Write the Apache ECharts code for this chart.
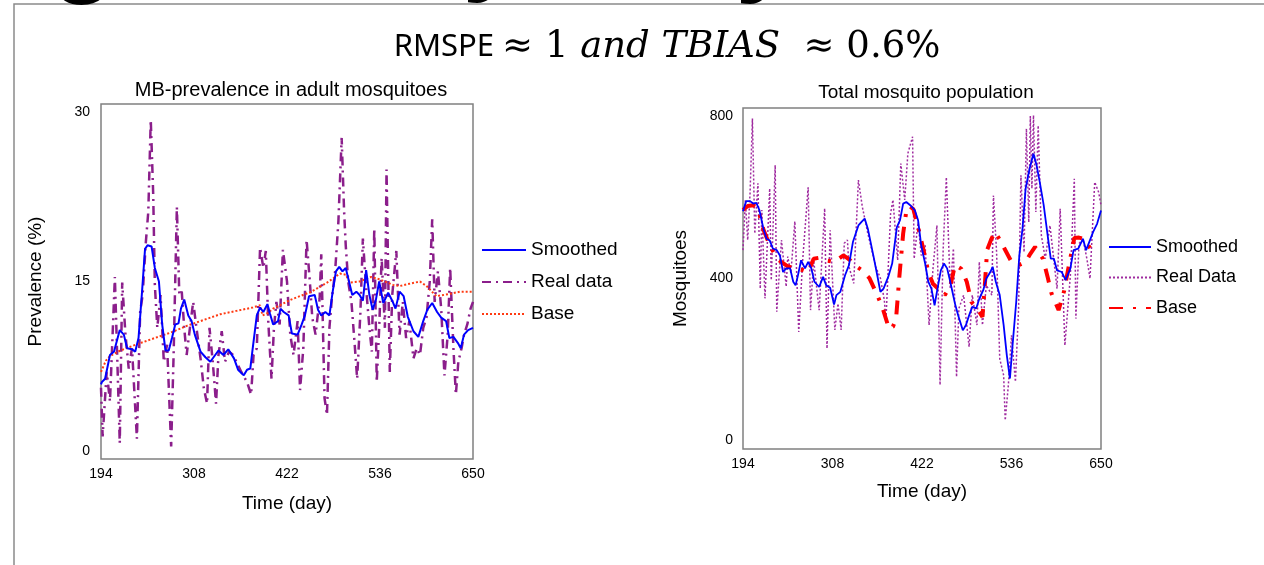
<!DOCTYPE html>
<html><head><meta charset="utf-8">
<script src="https://cdn.jsdelivr.net/npm/echarts@6/dist/echarts.min.js"></script>
<style>html,body{margin:0;padding:0;background:#fff}#c{width:1264px;height:565px}</style>
</head><body><div id="c"></div>
<script>
// ---------- tick labels ----------
const xTicks = [194, 308, 422, 536, 650];
const prevTicks = [0, 15, 30];
const popTicks = [0, 400, 800];

// ---------- left: MB-prevalence ----------
const prevSmoothDays = [194,195,199,205,210,217,222,226,232,236,240,244,248,251,256,260,265,269,273,277,281,285,289,292,296,301,305,309,316,322,328,334,338,344,350,357,362,369,373,377,380,385,389,393,398,401,405,411,414,418,424,428,435,440,444,449,456,460,464,469,474,478,482,486,490,494,498,502,507,511,515,519,523,527,531,535,540,546,551,555,560,565,570,577,583,589,594,600,606,611,617,621,626,632,635,639,644,650];
const prevSmoothVals = [5.9,6.1,6.4,8.5,8.8,10.7,10.3,9.1,9.0,8.8,10.0,13.8,17.9,18.2,18.1,16.2,15.0,11.2,8.9,8.9,10.0,11.2,11.3,12.6,13.4,12.0,11.5,10.3,8.8,8.3,7.9,8.5,8.9,8.5,9.0,8.2,7.2,6.7,7.2,7.3,9.1,12.0,12.7,12.3,13.0,12.2,11.2,11.5,12.6,12.3,12.0,10.4,10.3,11.2,12.0,13.7,13.8,12.5,12.0,12.3,12.0,14.1,15.9,16.3,15.9,16.2,15.0,13.8,14.1,13.8,13.3,16.0,13.8,12.5,13.4,15.0,13.1,14.0,13.3,12.6,14.1,13.7,11.9,10.6,10.1,11.5,12.5,13.1,12.3,11.8,11.5,10.0,10.1,9.5,9.1,10.3,10.7,10.9];

const prevRealDays = [194,196,201,205,211,217,220,224,228,232,238,242,245,249,252,255,258,260,263,267,271,275,280,283,287,290,293,296,299,303,307,311,316,320,324,327,331,335,338,342,346,351,356,366,373,378,381,385,389,393,396,399,403,406,409,413,417,422,426,430,435,438,442,446,450,453,457,462,464,468,471,474,477,481,485,489,492,494,497,501,505,508,512,515,519,523,526,529,532,535,538,542,544,548,551,556,560,564,568,572,577,581,585,589,593,597,600,603,607,611,615,619,622,626,629,632,636,639,643,647,650];
const prevRealVals = [5.6,1.3,7.0,4.4,15.4,0.7,14.9,10.3,7.3,9.1,1.1,12.3,13.8,18.5,21.2,29.3,22.7,14.7,10.9,13.8,7.9,9.4,0.4,8.5,21.6,13.8,14.1,10.9,8.5,10.9,13.2,10.9,8.2,5.6,4.2,10.9,7.9,4.2,8.5,10.6,7.9,8.8,8.5,7.0,6.1,5.0,8.5,9.1,18.0,16.2,17.7,11.5,6.4,10.9,13.2,11.2,17.8,15.0,10.3,8.5,11.5,5.4,9.1,18.7,15.0,11.8,10.3,13.5,17.4,4.7,3.2,10.9,13.5,15.9,20.3,27.7,21.2,18.2,15.0,13.2,9.4,6.4,12.3,18.8,14.4,10.9,8.8,19.7,6.1,10.9,17.1,10.9,24.9,7.0,13.8,17.7,10.3,13.2,10.0,11.5,8.2,9.1,8.5,10.9,11.8,15.0,20.5,13.2,15.9,12.6,6.7,10.3,16.2,9.1,5.0,7.9,9.1,10.3,11.2,12.6,13.2];

const prevBaseDays = [194,200,205,215,225,240,260,280,300,320,340,360,380,389,392,398,405,427,452,471,487,494,499,511,525,535,552,560,572,585,593,605,621,634,650];
const prevBaseVals = [7.0,8.0,8.4,8.8,9.1,9.5,10.0,10.5,11.1,11.6,12.1,12.4,12.7,12.9,12.0,12.2,12.6,13.4,14.1,14.9,15.7,15.6,14.9,15.0,15.4,15.2,14.7,14.6,14.8,15.0,14.6,13.7,13.9,14.1,14.1];

// ---------- right: total mosquito population ----------
const popSmoothDays = [194,195,198,203,207,211,215,220,224,228,232,237,241,245,249,254,258,261,264,268,273,277,281,285,291,296,300,305,310,313,318,324,329,334,341,345,349,353,360,365,369,373,379,384,390,394,398,402,407,413,417,421,426,430,434,438,441,446,450,454,458,464,468,474,478,482,486,491,495,500,504,509,512,516,521,526,530,534,537,542,546,550,554,559,564,568,572,577,582,586,590,594,600,605,611,615,621,627,631,635,640,645,650];
const popSmoothVals = [565,571,590,590,584,586,567,522,497,493,473,469,456,415,424,424,391,382,407,444,424,440,424,391,378,403,382,376,335,358,366,407,432,489,530,539,547,522,456,407,366,374,403,436,526,543,584,588,580,567,543,481,436,391,374,333,366,419,436,424,391,337,308,271,284,308,329,325,349,370,399,415,428,391,358,284,210,152,226,341,456,522,621,670,707,678,637,580,506,448,448,419,415,395,424,469,473,497,469,489,514,534,567];

const popRealDays = [194,197,200,203,206,209,213,216,218,222,228,230,235,237,243,249,251,255,260,265,270,277,280,284,291,298,301,305,311,315,319,323,327,329,335,341,346,353,358,363,369,374,376,382,385,391,395,400,404,410,412,417,421,426,431,436,441,445,449,453,458,462,466,469,475,482,486,492,495,499,504,511,513,517,521,526,528,532,536,541,545,548,552,555,558,560,562,564,567,570,574,579,585,594,598,604,611,616,618,622,627,632,636,642,647,650];
const popRealVals = [469,593,494,610,794,510,634,374,568,350,621,395,679,317,494,379,453,412,540,267,444,624,321,444,321,572,226,518,272,337,272,486,494,428,387,642,576,510,470,428,400,346,292,560,593,444,683,593,708,749,448,538,456,481,284,423,530,136,473,649,374,473,156,325,358,230,358,284,440,284,382,358,604,464,201,160,49,136,259,144,325,654,464,769,538,800,621,802,563,777,506,448,530,374,571,234,407,645,300,485,497,448,399,637,612,580];

const popBaseDays = [194,200,207,213,220,229,235,240,250,260,270,277,284,290,298,310,322,330,336,345,355,365,372,380,385,389,393,398,402,406,411,418,425,430,436,442,447,451,458,464,472,479,485,494,499,502,505,510,515,521,527,536,545,554,560,566,576,582,587,596,603,609,616,622,628,634,640];
const popBaseVals = [568,578,580,572,520,477,458,444,430,423,420,415,448,450,444,440,456,445,432,420,400,358,325,275,280,300,400,510,565,578,570,518,460,415,386,375,372,358,380,432,423,391,341,320,304,382,470,495,514,495,473,440,432,440,460,477,448,403,362,321,368,430,499,500,497,480,465];

const zip = (a, b) => a.map((d, i) => [d, b[i]]);

const FONT = '"Liberation Sans", Arial, sans-serif';
const chart = echarts.init(document.getElementById('c'), null, {renderer: 'canvas'});

function xAxisCfg(gi, gap) {
  return {
    type: 'value', gridIndex: gi, min: 194, max: 650,
    axisLine: {show: false}, axisTick: {show: false}, splitLine: {show: false},
    axisLabel: {customValues: xTicks, color: '#000', fontFamily: FONT, fontSize: 14, margin: 8},
    name: 'Time (day)', nameLocation: 'middle', nameGap: gap,
    nameTextStyle: {color: '#000', fontFamily: FONT, fontSize: 19}
  };
}

const legendText = {fontFamily: FONT, color: '#000', lineHeight: 20};

chart.setOption({
  animation: false,
  backgroundColor: '#fff',
  title: [
    {
      text: '{a|RMSPE }{b|≈ 1 }{c|and TBIAS }{b| ≈ 0.6%}',
      left: 662, top: 24, textAlign: 'center',
      textStyle: {
        fontWeight: 'normal',
        rich: {
          a: {fontFamily: '"Noto Sans", sans-serif', fontSize: 31, fontWeight: 'normal', color: '#000'},
          b: {fontFamily: '"DejaVu Serif", serif', fontSize: 37, fontWeight: 'normal', color: '#000'},
          c: {fontFamily: '"DejaVu Serif", serif', fontSize: 37, fontWeight: 'normal', fontStyle: 'italic', color: '#000'}
        }
      }
    },
    {text: 'MB-prevalence in adult mosquitoes', left: 286, top: 75, textAlign: 'center',
     textStyle: {fontFamily: FONT, fontSize: 20, fontWeight: 'normal', color: '#000'}},
    {text: 'Total mosquito population', left: 921, top: 78, textAlign: 'center',
     textStyle: {fontFamily: FONT, fontSize: 19, fontWeight: 'normal', color: '#000'}}
  ],
  graphic: [
    {type: 'rect', silent: true, shape: {x: 14, y: 4, width: 1300, height: 620},
     style: {fill: 'none', stroke: '#8a8a8a', lineWidth: 1.5}},
    {type: 'text', silent: true, z: 10, style: {text: 'g', x: 83, y: -99, font: 'bold 106px "Liberation Sans"', align: 'center', verticalAlign: 'top', fill: '#000'}},
    {type: 'text', silent: true, z: 10, style: {text: 'y', x: 492, y: -101, font: 'bold 106px "Liberation Sans"', align: 'center', verticalAlign: 'top', fill: '#000'}},
    {type: 'text', silent: true, z: 10, style: {text: 'y', x: 765, y: -100, font: 'bold 106px "Liberation Sans"', align: 'center', verticalAlign: 'top', fill: '#000'}}
  ],
  grid: [
    {left: 101, top: 104, width: 372, height: 355, show: true, borderColor: '#808080', borderWidth: 1.5, backgroundColor: 'transparent'},
    {left: 743, top: 108, width: 358, height: 341, show: true, borderColor: '#808080', borderWidth: 1.5, backgroundColor: 'transparent'}
  ],
  xAxis: [xAxisCfg(0, 35), xAxisCfg(1, 33)],
  yAxis: [
    {type: 'value', gridIndex: 0, min: -0.7, max: 30.7,
     axisLine: {show: false}, axisTick: {show: false}, splitLine: {show: false},
     axisLabel: {customValues: prevTicks, color: '#000', fontFamily: FONT, fontSize: 14, margin: 11},
     name: 'Prevalence (%)', nameLocation: 'middle', nameGap: 56,
     nameTextStyle: {color: '#000', fontFamily: FONT, fontSize: 19}},
    {type: 'value', gridIndex: 1, min: -22, max: 820,
     axisLine: {show: false}, axisTick: {show: false}, splitLine: {show: false},
     axisLabel: {customValues: popTicks, color: '#000', fontFamily: FONT, fontSize: 14, margin: 10},
     name: 'Mosquitoes', nameLocation: 'middle', nameGap: 53,
     nameTextStyle: {color: '#000', fontFamily: FONT, fontSize: 19}}
  ],
  legend: [
    {orient: 'vertical', left: 481, top: 240, padding: 0, itemWidth: 44, itemHeight: 14, itemGap: 12,
     itemStyle: {opacity: 0},
     data: ['Smoothed', 'Real data', 'Base'],
     textStyle: Object.assign({fontSize: 19}, legendText)},
    {orient: 'vertical', left: 1108, top: 237, padding: 0, itemWidth: 42, itemHeight: 14, itemGap: 10.5,
     itemStyle: {opacity: 0},
     data: ['Smoothed ', 'Real Data', 'Base '],
     textStyle: Object.assign({fontSize: 18}, legendText)}
  ],
  series: [
    {name: 'Real data', type: 'line', xAxisIndex: 0, yAxisIndex: 0, symbol: 'none', z: 2,
     data: zip(prevRealDays, prevRealVals),
     lineStyle: {color: '#8B1E8B', width: 2.5, type: [9, 5, 2, 5]}, itemStyle: {color: '#8B1E8B'}},
    {name: 'Base', type: 'line', xAxisIndex: 0, yAxisIndex: 0, symbol: 'none', z: 3,
     data: zip(prevBaseDays, prevBaseVals),
     lineStyle: {color: '#FF3A12', width: 2, type: [2, 2]}, itemStyle: {color: '#FF3A12'}},
    {name: 'Smoothed', type: 'line', xAxisIndex: 0, yAxisIndex: 0, symbol: 'none', z: 4,
     data: zip(prevSmoothDays, prevSmoothVals),
     lineStyle: {color: '#0000FF', width: 2}, itemStyle: {color: '#0000FF'}},

    {name: 'Real Data', type: 'line', xAxisIndex: 1, yAxisIndex: 1, symbol: 'none', z: 2,
     data: zip(popRealDays, popRealVals),
     lineStyle: {color: '#A02CA0', width: 1.5, type: [2, 2]}, itemStyle: {color: '#A02CA0'}},
    {name: 'Base ', type: 'line', xAxisIndex: 1, yAxisIndex: 1, symbol: 'none', z: 3,
     data: zip(popBaseDays, popBaseVals),
     lineStyle: {color: '#FF0000', width: 4, type: [14, 10, 3, 10]}, itemStyle: {color: '#FF0000'}},
    {name: 'Smoothed ', type: 'line', xAxisIndex: 1, yAxisIndex: 1, symbol: 'none', z: 4,
     data: zip(popSmoothDays, popSmoothVals),
     lineStyle: {color: '#0000FF', width: 1.8}, itemStyle: {color: '#0000FF'}}
  ]
});
</script>
</body></html>
